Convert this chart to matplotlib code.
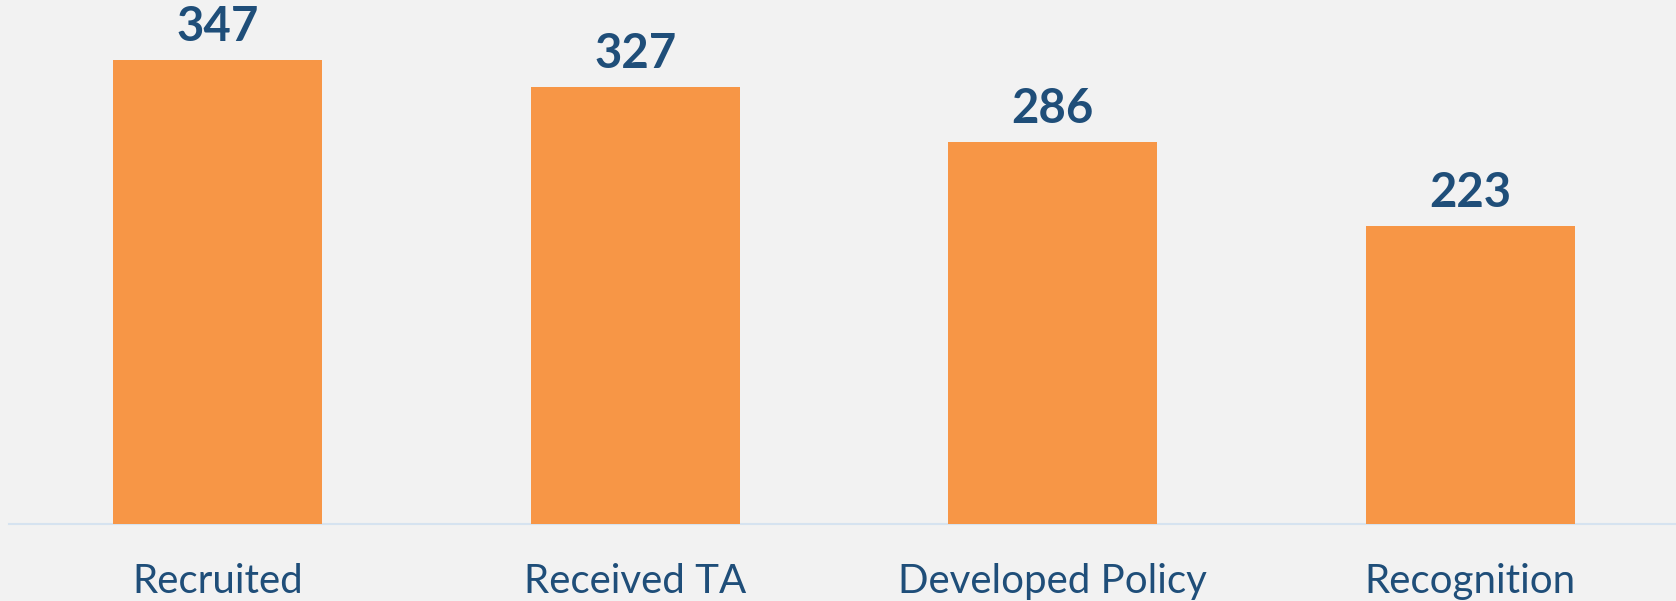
import matplotlib
matplotlib.use("Agg")
import matplotlib.pyplot as plt

# Chart data
categories = ["Recruited", "Received TA", "Developed Policy", "Recognition"]
values = [347, 327, 286, 223]

bg_color = "#F2F2F2"
bar_color = "#F79646"
text_color = "#1F4E79"

plt.rcParams["font.family"] = ["Lato", "DejaVu Sans"]

fig = plt.figure(figsize=(16.76, 6.01), dpi=100, facecolor=bg_color)
ax = fig.add_axes([9 / 1676, 77 / 601, 1670 / 1676, 524 / 601])
ax.set_facecolor(bg_color)

x = range(len(categories))
bars = ax.bar(x, values, width=0.5, color=bar_color, zorder=3)

# value labels above bars
for rect, v in zip(bars, values):
    ax.annotate(str(v), (rect.get_x() + rect.get_width() / 2, v),
                xytext=(0, 8), textcoords="offset points",
                ha="center", va="bottom", fontsize=34, fontweight="bold",
                color=text_color)

ax.set_xlim(-0.5, 3.5)
ax.set_ylim(0, 392)

ax.set_xticks(list(x))
ax.set_xticklabels(categories, fontsize=29, color=text_color)
ax.tick_params(axis="x", length=0, pad=28)
ax.set_yticks([])

for side in ["top", "right", "left"]:
    ax.spines[side].set_visible(False)
ax.spines["bottom"].set_color("#D6E3F0")
ax.spines["bottom"].set_linewidth(1.5)

fig.savefig("out.png", dpi=100, facecolor=bg_color)
